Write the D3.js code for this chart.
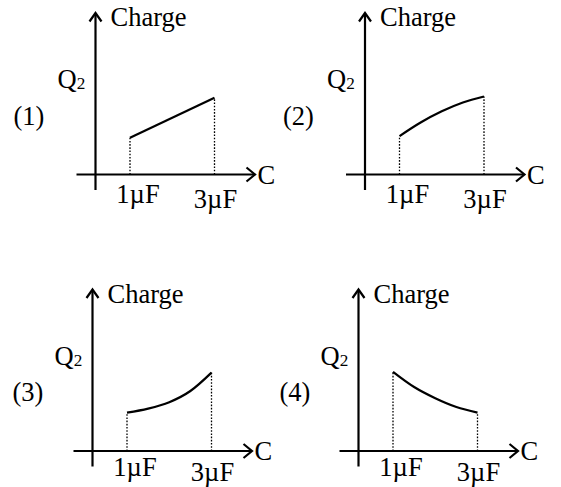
<!DOCTYPE html>
<html>
<head>
<meta charset="utf-8">
<script src="https://cdn.jsdelivr.net/npm/d3@7"></script>
<style>
  html, body { margin: 0; padding: 0; background: #fff; }
  svg { display: block; }
  text { font-family: "Liberation Serif", "Times New Roman", serif; fill: #000; }
</style>
</head>
<body>
<svg id="chart" width="561" height="487"></svg>
<script>
// ---- data ----
const panelLabels = ["(1)", "(2)", "(3)", "(4)"];
const yAxisTitle = "Charge";
const yAxisSymbol = "Q";
const yAxisSub = "2";
const xAxisTitle = "C";
const xTickValues = [1, 3];
const xTickLabels = ["1µF", "3µF"];

// capacitance values (µF) at which each curve was read
const capLinear = [1, 3];
const capCurve = [1, 1.5, 2, 2.5, 3];
// Q2 (arbitrary units)
const charge1 = [2.3, 4.8];                       // straight line
const charge2 = [2.4, 3.25, 3.95, 4.5, 4.875];    // rising, concave
const charge3 = [2.4, 2.65, 3.05, 3.75, 4.9];     // rising, convex
const charge4 = [4.95, 4.0, 3.3, 2.75, 2.4];      // falling, convex

const panels = [
  { label: panelLabels[0], cap: capLinear, q: charge1, ox: 95.5, oy: 174.5, labelDx: -82, tickDy: [28, 33] },
  { label: panelLabels[1], cap: capCurve,  q: charge2, ox: 365,  oy: 174.5, labelDx: -82, tickDy: [28, 33] },
  { label: panelLabels[2], cap: capCurve,  q: charge3, ox: 92.5, oy: 451,   labelDx: -80, tickDy: [25, 29.5] },
  { label: panelLabels[3], cap: capCurve,  q: charge4, ox: 358.5, oy: 451,  labelDx: -79, tickDy: [25, 29.5] }
];

// ---- drawing ----
const svg = d3.select("#chart");
const FS = 26.5;

// local scales (origin at axis intersection)
const x = d3.scaleLinear().domain([1, 3]).range([34.5, 119]);
const y = d3.scaleLinear().domain([0, 10]).range([0, -160]);

panels.forEach(p => {
  const g = svg.append("g").attr("transform", `translate(${p.ox},${p.oy})`);

  // axes
  g.append("line").attr("x1", -19).attr("y1", 0).attr("x2", 159).attr("y2", 0)
    .attr("stroke", "#000").attr("stroke-width", 2.2);
  g.append("line").attr("x1", 0).attr("y1", 15.5).attr("x2", 0).attr("y2", -161)
    .attr("stroke", "#000").attr("stroke-width", 2.2);
  // arrow heads (open chevrons)
  g.append("path").attr("d", "M151,-7 L159.5,0 L151,7")
    .attr("fill", "none").attr("stroke", "#000").attr("stroke-width", 2.2);
  g.append("path").attr("d", "M-6,-153 L0,-161.5 L6,-153")
    .attr("fill", "none").attr("stroke", "#000").attr("stroke-width", 2.2);

  // dotted drop lines at the curve ends
  const first = 0, last = p.cap.length - 1;
  [first, last].forEach(i => {
    g.append("line")
      .attr("x1", x(p.cap[i])).attr("x2", x(p.cap[i]))
      .attr("y1", 0).attr("y2", y(p.q[i]))
      .attr("stroke", "#000").attr("stroke-width", 1.3)
      .attr("stroke-dasharray", "1.6,1.6");
  });

  // curve
  const pts = p.cap.map((c, i) => [c, p.q[i]]);
  const line = d3.line().x(d => x(d[0])).y(d => y(d[1]))
    .curve(p.cap.length > 2 ? d3.curveMonotoneX : d3.curveLinear);
  g.append("path").attr("d", line(pts))
    .attr("fill", "none").attr("stroke", "#000").attr("stroke-width", 2.2);

  // tick labels
  xTickValues.forEach((v, i) => {
    g.append("text").attr("x", x(v) + (i === 0 ? 8 : 1)).attr("y", p.tickDy[i])
      .attr("text-anchor", "middle").attr("font-size", FS).text(xTickLabels[i]);
  });

  // axis titles
  g.append("text").attr("x", 162).attr("y", 9).attr("font-size", FS).text(xAxisTitle);
  g.append("text").attr("x", 15).attr("y", -148.5).attr("font-size", FS).text(yAxisTitle);
  const q = g.append("text").attr("x", -38).attr("y", -86.5).attr("font-size", FS);
  q.append("tspan").text(yAxisSymbol);
  q.append("tspan").attr("font-size", FS * 0.65).attr("dy", 1).text(yAxisSub);

  // panel label
  g.append("text").attr("x", p.labelDx).attr("y", -50).attr("font-size", FS).text(p.label);
});
</script>
</body>
</html>
